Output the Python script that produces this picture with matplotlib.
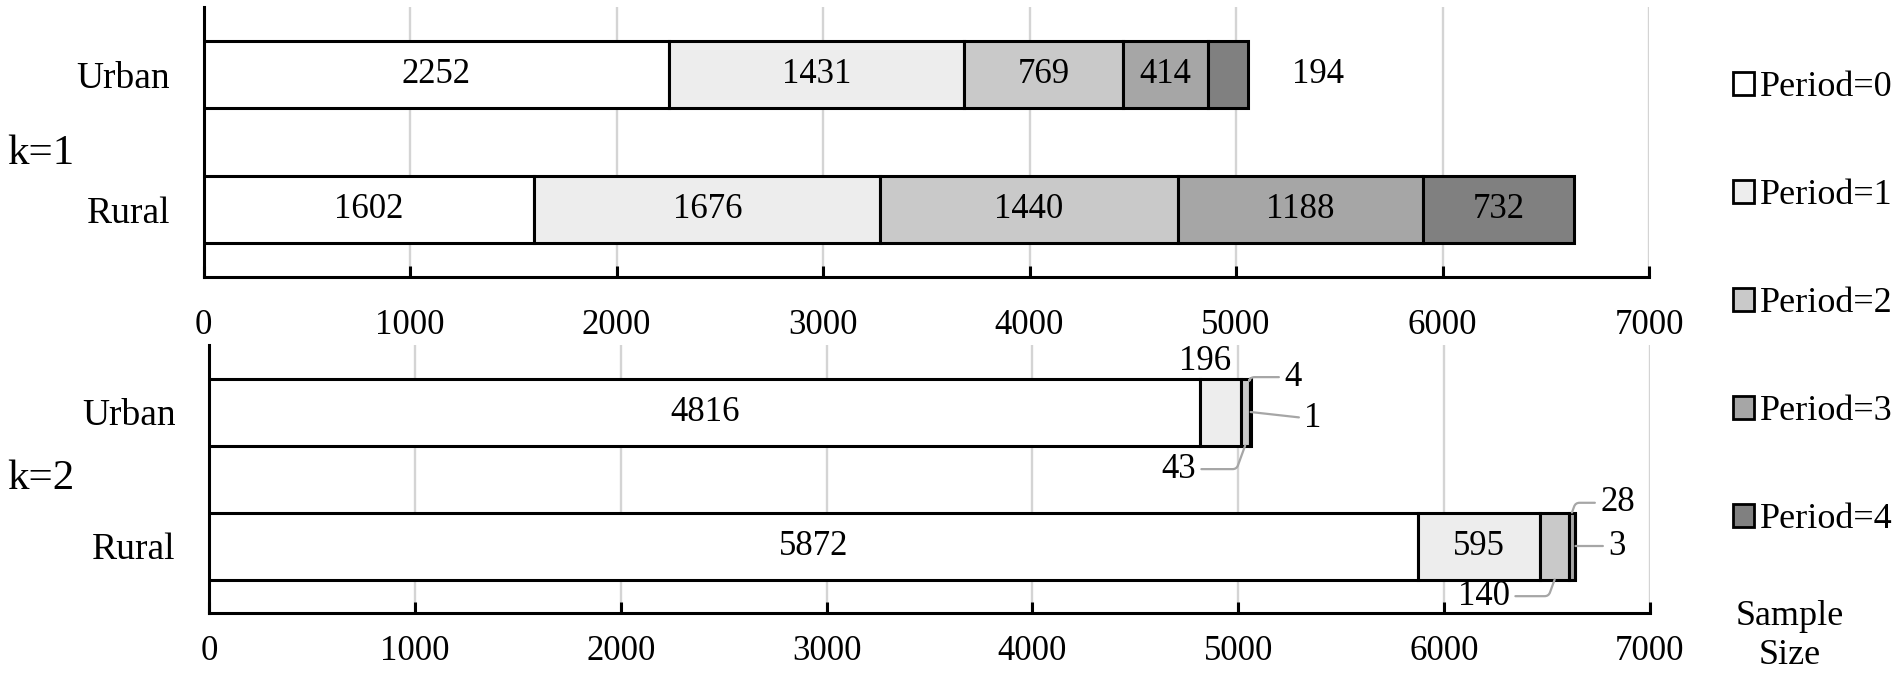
import numpy as np
from matplotlib import pyplot as plt
from matplotlib.patches import Patch

plt.rcParams['font.family'] = ['Liberation Serif', 'DejaVu Serif']

# data
groups = ['k=1', 'k=2']
areas = ['Urban', 'Rural']
periods = ['Period=0', 'Period=1', 'Period=2', 'Period=3', 'Period=4']
k1_urban = [2252, 1431, 769, 414, 194]
k1_rural = [1602, 1676, 1440, 1188, 732]
k2_urban = [4816, 196, 43, 4, 1]
k2_rural = [5872, 595, 140, 28, 3]
xticks = [0, 1000, 2000, 3000, 4000, 5000, 6000, 7000]

colors = ['#ffffff', '#ededed', '#c9c9c9', '#a6a6a6', '#808080']
bar_h = 0.5
edge_lw = 2.2

# labels that sit outside their segment: (panel, row, period) -> (where, dx, dy, leader)
outside = {
    (0, 0, 4): ('mid', 50, 0, False),
    (1, 0, 1): ('top', -11, 12, False),
    (1, 0, 2): ('bottom', -48, -17, True),
    (1, 0, 3): ('top', 31, 1, True),
    (1, 0, 4): ('mid', 45, -5, True),
    (1, 1, 2): ('bottom', -51, -12, True),
    (1, 1, 3): ('top', 33, 7, True),
    (1, 1, 4): ('mid', 30, 0, True),
}

fig = plt.figure(figsize=(19.02, 6.74), dpi=100)
ax_top = fig.add_axes([0.107, 0.589, 0.760, 0.4006])
ax_bot = fig.add_axes([0.1099, 0.0905, 0.7576, 0.3976])

panels = [(ax_top, [k1_urban, k1_rural], 23), (ax_bot, [k2_urban, k2_rural], 16)]
ypos = [1, 0]

for pi, (ax, rows, tpad) in enumerate(panels):
    vals = np.array(rows)
    lefts = np.cumsum(vals, axis=1) - vals
    for p in range(len(periods)):
        ax.barh(ypos, vals[:, p], left=lefts[:, p], height=bar_h,
                color=colors[p], edgecolor='black', linewidth=edge_lw,
                label=periods[p], zorder=3)
        for r in range(len(rows)):
            v = vals[r, p]
            xc = lefts[r, p] + v / 2
            key = (pi, r, p)
            if key in outside:
                where, dx, dy, leader = outside[key]
                yy = ypos[r] + {'top': bar_h / 2, 'bottom': -bar_h / 2, 'mid': 0}[where]
                xx = lefts[r, p] + v if where == 'mid' else xc
                props = None
                if leader:
                    props = dict(arrowstyle='-', color='#a6a6a6', lw=1.6,
                                 shrinkA=2, shrinkB=0,
                                 connectionstyle='angle,angleA=0,angleB=70,rad=4'
                                 if where != 'mid' else 'arc3')
                ax.annotate(str(v), xy=(xx, yy), xytext=(dx, dy),
                            textcoords='offset points', ha='center', va='center',
                            fontsize=25, arrowprops=props, zorder=5)
            else:
                ax.text(xc, ypos[r], str(v), ha='center', va='center',
                        fontsize=25, zorder=5)

    ax.set_xlim(0, 7000)
    ax.set_ylim(-0.5, 1.5)
    ax.set_xticks(xticks)
    ax.set_yticks(ypos)
    ax.set_yticklabels(areas)
    ax.tick_params(axis='x', direction='in', length=8, width=2.2, labelsize=25, pad=tpad)
    ax.tick_params(axis='y', length=0, labelsize=27, pad=24)
    ax.xaxis.grid(True, color='#d4d4d4', linewidth=1.7)
    ax.set_axisbelow(True)
    for s in ['top', 'right']:
        ax.spines[s].set_visible(False)
    for s in ['left', 'bottom']:
        ax.spines[s].set_linewidth(2.2)

fig.text(0.004, 0.772, groups[0], fontsize=31, ha='left', va='center')
fig.text(0.004, 0.289, groups[1], fontsize=31, ha='left', va='center')

handles = [Patch(facecolor=c, edgecolor='black', linewidth=2) for c in colors]
fig.legend(handles, periods, loc='upper left', bbox_to_anchor=(0.911, 0.895),
           frameon=False, fontsize=26, handlelength=0.6, handleheight=0.6,
           handletextpad=0.15, labelspacing=2.08, borderpad=0, borderaxespad=0)

fig.text(0.941, 0.056, 'Sample\nSize', fontsize=26, ha='center', va='center',
         linespacing=1.25)

fig.savefig('out.png', dpi=100)
